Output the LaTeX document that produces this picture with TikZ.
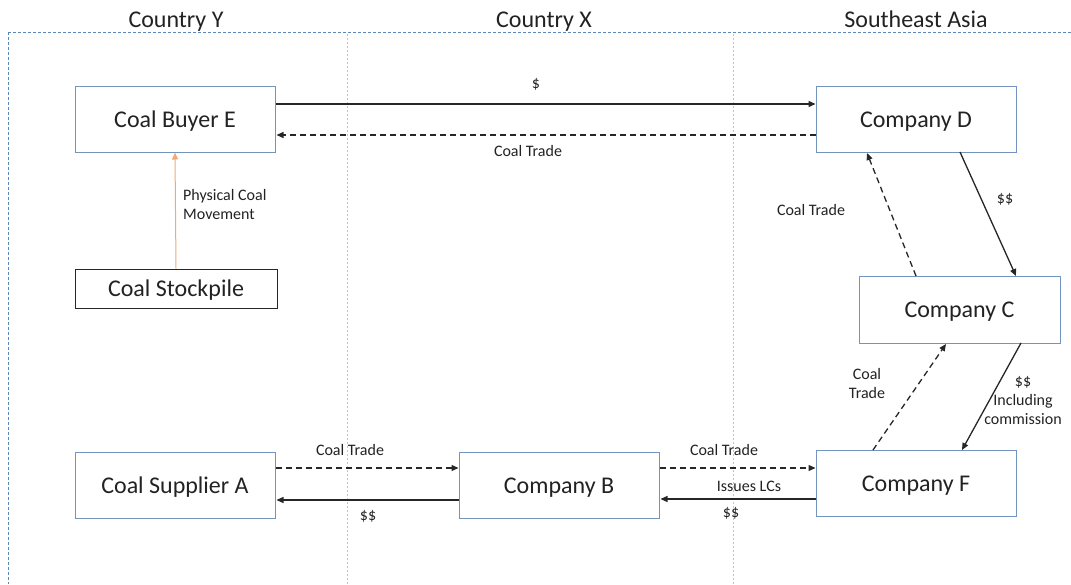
\documentclass[tikz,border=0pt]{standalone}
\usepackage{fontspec}
\setmainfont{Carlito}
\usetikzlibrary{arrows.meta}
\definecolor{boxblue}{HTML}{7394BE}
\definecolor{frameblue}{HTML}{5B86B8}
\definecolor{sepblue}{HTML}{A9CBEA}
\definecolor{orangearr}{HTML}{F4A77A}
\definecolor{txt}{HTML}{222222}
\tikzset{
  box/.style={draw=boxblue, line width=1pt, minimum width=200pt, minimum height=66pt, inner sep=0pt, text height=16pt, text depth=0pt, font=\fontsize{24}{28}\selectfont, text=txt},
  hdr/.style={font=\fontsize{24}{28}\selectfont, text=txt, anchor=base},
  lbl/.style={font=\fontsize{16}{19}\selectfont, text=txt, align=center, inner sep=1pt},
  arr/.style={line width=1.3pt, draw=black!85, -{Triangle[length=7pt,width=6pt]}},
  darr/.style={arr, dash pattern=on 6pt off 4pt},
  frame/.style={draw=frameblue, line width=0.9pt, dash pattern=on 3pt off 2pt},
  sep/.style={draw=sepblue, line width=0.8pt, dash pattern=on 2pt off 2pt}
}
\begin{document}
\begin{tikzpicture}[x=1pt,y=-1pt]
\useasboundingbox (0,0) rectangle (1071,584);
% frame and separators
\draw[frame] (8,32) -- (1071,32);
\draw[frame] (8,32) -- (8,584);
\draw[sep] (347,34) -- (347,584);
\draw[sep] (733,34) -- (733,584);
% headers
\node[hdr] (hy) at (176,27) {Country Y};
\node[hdr] (hx) at (544,27) {Country X};
\node[hdr] (hs) at (916,27) {Southeast Asia};
% boxes
\node[box] (E) at (175,119) {Coal Buyer E};
\node[box, draw=black!85, minimum width=202pt, minimum height=39pt] (S) at (176,288.5) {Coal Stockpile};
\node[box] (D) at (916,119) {Company D};
\node[box, minimum width=201pt, minimum height=67pt] (C) at (959.5,309.5) {Company C};
\node[box] (F) at (916,483) {Company F};
\node[box] (B) at (559,485) {Company B};
\node[box] (A) at (175,485) {Coal Supplier A};
% top arrows
\draw[arr] (E.east |- 0,104) -- (D.west |- 0,104);
\node[lbl] (l1) at (536,84) {\$};
\draw[darr] (D.west |- 0,135) -- ([xshift=1pt]E.east |- 0,135);
\node[lbl] (l2) at (528,151) {Coal Trade};
% stockpile
\draw[line width=1pt, draw=orangearr, -{Triangle[length=7pt,width=6pt]}] (S.north) -- (E.south);
\node[lbl, align=left, anchor=west] (l3) at (182,204) {Physical Coal\\Movement};
% right side
\draw[arr] (960,152) -- (1016,276);
\node[lbl] (l4) at (1005,199) {\$\$};
\draw[darr] (916,276) -- (867,153);
\node[lbl] (l5) at (811,210) {Coal Trade};
\draw[arr] (1021,343) -- (962,450);
\node[lbl] (l6) at (1023,400) {\$\$\\Including\\commission};
\draw[darr] (873,450) -- (946,344);
\node[lbl] (l7) at (867,383) {Coal\\Trade};
% bottom arrows
\draw[darr] (A.east |- 0,468) -- (B.west |- 0,468);
\node[lbl] (l8) at (350,450) {Coal Trade};
\draw[arr] (B.west |- 0,500) -- ([xshift=1pt]A.east |- 0,500);
\node[lbl] (l9) at (368,516) {\$\$};
\draw[darr] (B.east |- 0,468) -- (F.west |- 0,468);
\node[lbl] (l10) at (724,450) {Coal Trade};
\draw[arr] (F.west |- 0,499) -- ([xshift=1pt]B.east |- 0,499);
\node[lbl] (l11) at (749,486) {Issues LCs};
\node[lbl] (l12) at (731,513) {\$\$};
\end{tikzpicture}
\end{document}
